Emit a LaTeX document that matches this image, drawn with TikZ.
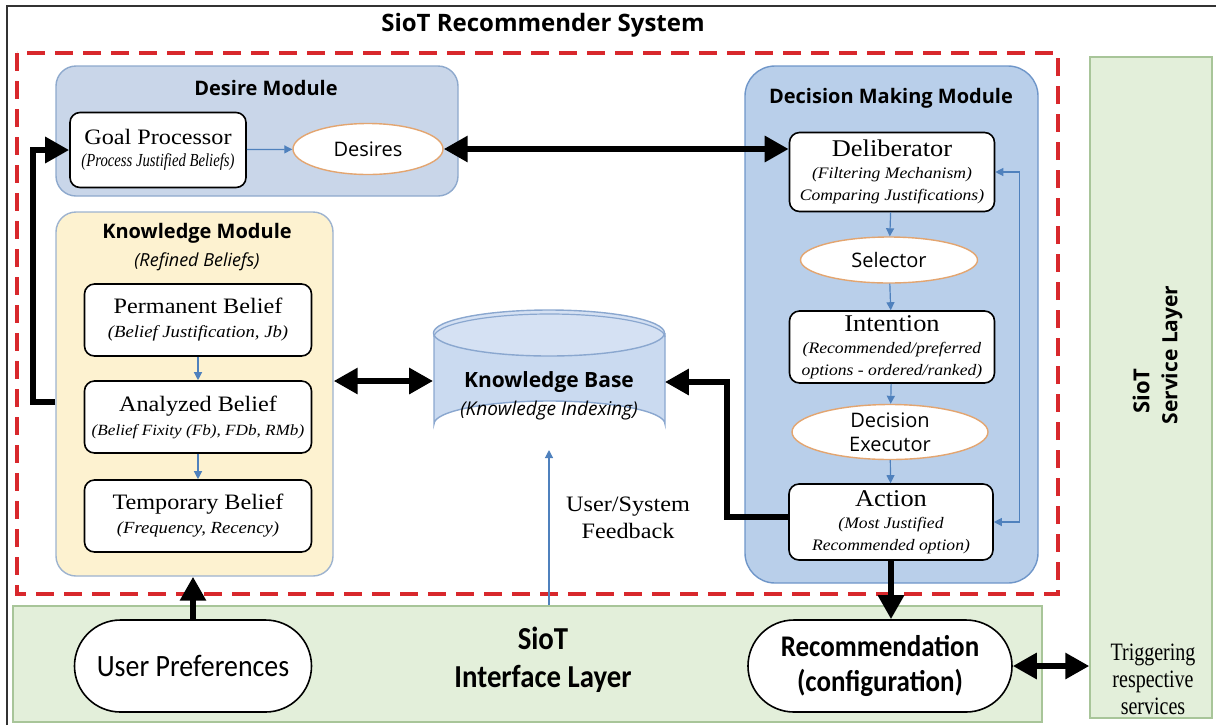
\documentclass[tikz,border=0pt]{standalone}
\usepackage{fontspec}
\setmainfont[FakeStretch=1.1]{Liberation Serif}
\setsansfont{Open Sans}
\newfontfamily\noteserif[FakeStretch=0.8]{Liberation Serif}
\newfontfamily\narrowsans[FakeStretch=0.9]{Carlito}
\usetikzlibrary{arrows.meta,shapes.geometric}

\definecolor{desirefill}{HTML}{C9D6E9}
\definecolor{desireline}{HTML}{8EA9CD}
\definecolor{knowfill}{HTML}{FDF2D0}
\definecolor{knowline}{HTML}{9DB3CF}
\definecolor{decfill}{HTML}{B9CFEA}
\definecolor{decline}{HTML}{6F96C9}
\definecolor{layerfill}{HTML}{E3EFDA}
\definecolor{layerline}{HTML}{A8C599}
\definecolor{kbfill}{HTML}{CADAF0}
\definecolor{kbline}{HTML}{8AA7CF}
\definecolor{ovalline}{HTML}{E3A570}
\definecolor{flowblue}{HTML}{4F81BD}
\definecolor{dashred}{HTML}{D8282C}

\newcommand{\fs}[1]{\fontsize{#1}{1.2\dimexpr#1pt\relax}\selectfont}

\tikzset{
  module/.style={rounded corners=10pt, line width=0.7pt},
  box/.style={draw, fill=white, rounded corners=5pt, line width=0.8pt,
    align=center, inner sep=1pt},
  oval/.style={ellipse, draw=ovalline, fill=white, line width=0.7pt,
    align=center, inner sep=0pt, font=\sffamily\fs{10}},
  pill/.style={draw, fill=white, rounded corners=23pt, line width=0.8pt,
    align=center, inner sep=1pt},
  header/.style={font=\sffamily\bfseries\fs{10}},
  flow/.style={draw=flowblue, line width=0.6pt,
    -{Triangle[length=4pt,width=4pt]}},
  flowboth/.style={draw=flowblue, line width=0.6pt,
    {Triangle[length=4pt,width=4pt]}-{Triangle[length=4pt,width=4pt]}},
  bigarrow/.style={line width=3.3pt, -{Triangle[length=12pt,width=12.5pt]}},
  bigboth/.style={line width=3.3pt,
    {Triangle[length=12pt,width=12.5pt]}-{Triangle[length=12pt,width=12.5pt]}}
}

\begin{document}
\begin{tikzpicture}[x=0.5pt,y=-0.5pt]
  \useasboundingbox (0,0) rectangle (1216,725);

  % frame and layers
  \draw[line width=0.8pt, black!80] (7,725) -- (7,6) -- (1216,6);
  \node[font=\sffamily\bfseries\fs{12}] (title) at (543,25) {SioT Recommender System};
  \draw[dashred, line width=1.6pt, dash pattern=on 9pt off 5pt] (17,53) rectangle (1058,594);
  \node[draw=layerline, fill=layerfill, line width=0.7pt,
    minimum width=514.5pt, minimum height=58pt] (il) at (527.5,664) {};
  \node[draw=layerline, fill=layerfill, line width=0.7pt,
    minimum width=61pt, minimum height=330.5pt] (sl) at (1151,387.5) {};
  \node[font=\sffamily\bfseries\fs{11}, rotate=90] (sltop) at (1141,391) {SioT};
  \node[font=\sffamily\bfseries\fs{10.5}, rotate=90] (slbot) at (1172,355) {Service Layer};
  \node[font=\narrowsans\bfseries\fontsize{16}{19}\selectfont, align=center] (iltext) at (543,660)
    {SioT\\ Interface Layer};

  % modules
  \node[module, draw=desireline, fill=desirefill,
    minimum width=201pt, minimum height=65pt] (dm) at (257,131) {};
  \node[header] (dmtitle) at (266,88) {Desire Module};
  \node[module, draw=knowline, fill=knowfill,
    minimum width=138.5pt, minimum height=182pt] (km) at (194.5,394) {};
  \node[header] (kmtitle) at (197,233) {Knowledge Module};
  \node[font=\sffamily\itshape\fs{9}] (kmsub) at (197,262) {(Refined Beliefs)};
  \node[module, rounded corners=15pt, draw=decline, fill=decfill,
    minimum width=146.5pt, minimum height=258.5pt] (dec) at (891.5,324.5) {};
  \node[header] (dectitle) at (891,98) {Decision Making Module};

  % desire module
  \node[box, minimum width=88pt, minimum height=37.5pt] (gp) at (158,150)
    {\fs{11}Goal Processor\\[-1pt]{\noteserif\itshape\fs{9.2}(Process Justified Beliefs)}};
  \node[oval, minimum width=75pt, minimum height=25.5pt] (des) at (368,149) {Desires};

  % knowledge module
  \node[box, minimum width=113.5pt, minimum height=36pt] (pb) at (198,320)
    {\fs{11}Permanent Belief\\{\itshape\fs{8.5}(Belief Justification, Jb)}};
  \node[box, minimum width=113.5pt, minimum height=36pt] (ab) at (198,417)
    {\fs{11}Analyzed Belief\\{\itshape\fs{7.8}(Belief Fixity (Fb), FDb, RMb)}};
  \node[box, minimum width=113.5pt, minimum height=36pt] (tb) at (198,516)
    {\fs{11}Temporary Belief\\{\itshape\fs{8.5}(Frequency, Recency)}};

  % decision making module
  \node[box, minimum width=102.5pt, minimum height=39.5pt] (del) at (892,172)
    {\fs{12}Deliberator\\[-1pt]{\itshape\fs{8}(Filtering Mechanism)}\\[-1pt]{\itshape\fs{8}Comparing Justifications)}};
  \node[oval, minimum width=88.5pt, minimum height=23pt] (sel) at (889,260) {Selector};
  \node[box, minimum width=102.5pt, minimum height=36pt] (int) at (892,347)
    {\fs{12}Intention\\[-1pt]{\itshape\fs{8}(Recommended/preferred}\\[-1pt]{\itshape\fs{8}options - ordered/ranked)}};
  \node[oval, minimum width=98pt, minimum height=27.5pt] (exe) at (890,432)
    {Decision\\Executor};
  \node[box, minimum width=102pt, minimum height=38pt] (act) at (891,522)
    {\fs{12}Action\\[-1pt]{\itshape\fs{8}(Most Justified}\\[-1pt]{\itshape\fs{8}Recommended option)}};

  % knowledge base
  \node[minimum width=115.5pt, minimum height=68.5pt, inner sep=0pt] (kb) at (549,380) {};
  \fill[kbfill] (434,333) -- (434,424) arc[start angle=180, end angle=360,
    x radius=115.5, y radius=23] -- (665,333) arc[start angle=0, end angle=180,
    x radius=115.5, y radius=23] -- cycle;
  \draw[kbline, line width=0.7pt] (434,333) -- (434,424) arc[start angle=180,
    end angle=360, x radius=115.5, y radius=23] -- (665,333);
  \draw[kbline, line width=0.7pt, fill=kbfill!80!white] (549,333) ellipse[x radius=115.5, y radius=23];
  \draw[kbline, line width=0.6pt] (434,337) arc[start angle=180, end angle=360,
    x radius=115.5, y radius=23];
  \node[font=\sffamily\bfseries\fs{10.5}] (kbtitle) at (549,382) {Knowledge Base};
  \node[font=\sffamily\itshape\fs{9.5}] (kbsub) at (549,411) {(Knowledge Indexing)};
  \node[align=center, font=\fs{11}] (fb) at (628,518) {User/System\\Feedback};

  % interface layer
  \node[pill, minimum width=118.5pt, minimum height=46pt,
    font=\narrowsans\fs{15.5}] (up) at (193,666) {User Preferences};
  \node[pill, minimum width=132pt, minimum height=46pt,
    font=\narrowsans\bfseries\fontsize{15}{17.5}\selectfont] (rec) at (880,666) {Recommendation\\(configuration)};
  \node[align=center, font=\noteserif\fontsize{12.5}{13.5}\selectfont] (trig) at (1153,679)
    {Triggering\\respective\\services};

  \begin{scope}[flow]
    \draw (gp) -- (des);
    \draw (pb) -- (ab);
    \draw (ab) -- (tb);
    \draw (del) -- (sel);
    \draw (sel) -- (int);
    \draw (int) -- (exe);
    \draw (exe) -- (act);
    \draw (kb.south |- il.north) -- (kb.south |- 0,450);
  \end{scope}
  \draw[flowboth] (act.east) -- ++(26,0) |- (del.east);

  \begin{scope}[bigarrow]
    \draw (km.west |- 0,402) -- (33,402) |- (gp.west);
    \draw ([yshift=2.5pt]act.west) -| (727,382) -- (kb.east |- 0,382);
    \draw (up.north) -- (up.north |- km.south);
    \draw (act.south) -- (act.south |- rec.north);
  \end{scope}
  \begin{scope}[bigboth]
    \draw (des.east) -- (des.east -| del.west);
    \draw (km.east |- 0,381) -- (kb.west |- 0,381);
    \draw (rec.east) -- (rec.east -| sl.west);
  \end{scope}
\end{tikzpicture}
\end{document}
